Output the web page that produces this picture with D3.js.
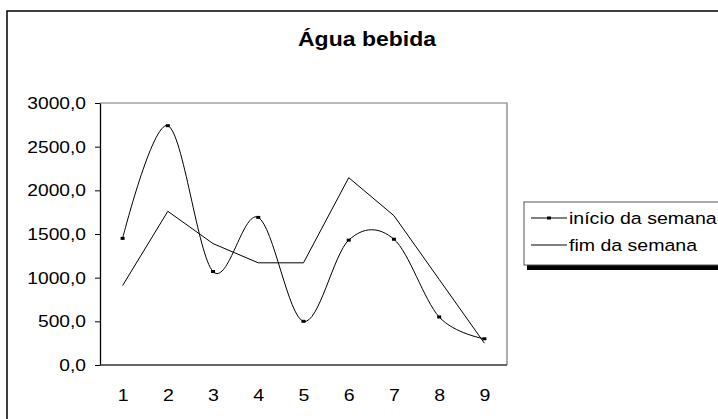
<!DOCTYPE html>
<html>
<head>
<meta charset="utf-8">
<script src="https://cdn.jsdelivr.net/npm/d3@7/dist/d3.min.js"></script>
<style>
  body { margin: 0; background: #fff; }
  text { font-family: "Liberation Sans", Arial, sans-serif; fill: #000; }
</style>
</head>
<body>
<script>
var semanas = [1, 2, 3, 4, 5, 6, 7, 8, 9];
var inicio = [1450, 2740, 1070, 1690, 500, 1430, 1440, 550, 300];
var fim = [910, 1760, 1390, 1170, 1170, 2145, 1710, 980, 250];
var yTicks = [0, 500, 1000, 1500, 2000, 2500, 3000];
var seriesNames = ["início da semana", "fim da semana"];
var title = "Água bebida";

var W = 718, H = 419;
var sx = 1.15; // text in the picture is a bit wider than normal
var plot = {left: 100, right: 507, top: 103, bottom: 365};

var pt = d3.formatLocale({decimal: ",", thousands: "", grouping: [3], currency: ["", ""]});
var fmt = pt.format(".1f");

var svg = d3.select("body").append("svg")
    .attr("width", W)
    .attr("height", H);

// chart area border
svg.append("rect")
    .attr("x", 7).attr("y", 11)
    .attr("width", 800).attr("height", 500)
    .attr("fill", "#fff")
    .attr("stroke", "#000")
    .attr("stroke-width", 1.5);

var x = d3.scalePoint()
    .domain(semanas)
    .range([plot.left, plot.right])
    .padding(0.5);

var y = d3.scaleLinear()
    .domain([0, 3000])
    .range([plot.bottom, plot.top]);

// plot frame (top + right are grey)
svg.append("path")
    .attr("d", "M" + plot.left + "," + plot.top + "H" + plot.right + "V" + plot.bottom)
    .attr("fill", "none")
    .attr("stroke", "#777")
    .attr("stroke-width", 1.2);

// y axis
var ysx = 1.2;
var yAxis = svg.append("g")
    .attr("transform", "translate(" + plot.left + ",0)")
    .call(d3.axisLeft(y).tickValues(yTicks).tickFormat(fmt).tickSizeInner(5).tickSizeOuter(0));
yAxis.select(".domain").attr("stroke", "#000").attr("stroke-width", 1.3);
yAxis.selectAll(".tick line").attr("stroke", "#000");
yAxis.selectAll(".tick text")
    .attr("x", -14 / ysx)
    .attr("dy", "0.35em")
    .attr("transform", "scale(" + ysx + ",1)")
    .style("font-size", "16px");

// x axis
var xAxis = svg.append("g")
    .attr("transform", "translate(0," + plot.bottom + ")")
    .call(d3.axisBottom(x).tickSize(0).tickPadding(0));
xAxis.select(".domain")
    .attr("d", "M" + plot.left + ",0H" + plot.right)
    .attr("stroke", "#333").attr("stroke-width", 1.3);
xAxis.selectAll(".tick text")
    .attr("y", 36)
    .attr("dy", 0)
    .attr("transform", "scale(" + sx + ",1)")
    .attr("x", 0)
    .style("font-size", "17px");

// lines
var smooth = d3.line()
    .x(function(d, i) { return x(semanas[i]); })
    .y(function(d) { return y(d); })
    .curve(d3.curveCardinal.tension(0));

var straight = d3.line()
    .x(function(d, i) { return x(semanas[i]); })
    .y(function(d) { return y(d); });

svg.append("path")
    .datum(fim)
    .attr("d", straight)
    .attr("fill", "none")
    .attr("stroke", "#000")
    .attr("stroke-width", 1);

svg.append("path")
    .datum(inicio)
    .attr("d", smooth)
    .attr("fill", "none")
    .attr("stroke", "#000")
    .attr("stroke-width", 1);

svg.selectAll(".mk")
    .data(inicio)
    .enter().append("rect")
    .attr("class", "mk")
    .attr("x", function(d, i) { return x(semanas[i]) - 2; })
    .attr("y", function(d) { return y(d) - 1.5; })
    .attr("width", 4)
    .attr("height", 3)
    .attr("fill", "#000");

// title
svg.append("g")
    .attr("transform", "translate(367,46)")
  .append("text")
    .attr("transform", "scale(" + sx + ",1)")
    .attr("text-anchor", "middle")
    .style("font-size", "20px")
    .style("font-weight", "bold")
    .text(title);

// legend
var lg = svg.append("g").attr("transform", "translate(524,202)");
lg.append("rect")
    .attr("x", 3).attr("y", 63)
    .attr("width", 300).attr("height", 5)
    .attr("fill", "#000");
lg.append("rect")
    .attr("x", 0).attr("y", 0)
    .attr("width", 300).attr("height", 63)
    .attr("fill", "#fff")
    .attr("stroke", "#555")
    .attr("stroke-width", 1);

var rows = lg.selectAll(".row")
    .data(seriesNames)
    .enter().append("g")
    .attr("class", "row")
    .attr("transform", function(d, i) { return "translate(0," + (16 + i * 27) + ")"; });

rows.append("line")
    .attr("x1", 7).attr("x2", 43)
    .attr("stroke", "#000")
    .attr("stroke-width", 1);

rows.filter(function(d, i) { return i === 0; })
    .append("rect")
    .attr("x", 23).attr("y", -1.5)
    .attr("width", 4).attr("height", 3)
    .attr("fill", "#000");

rows.append("g")
    .attr("transform", "translate(45,0)")
  .append("text")
    .attr("transform", "scale(" + sx + ",1)")
    .attr("dy", "0.35em")
    .style("font-size", "17px")
    .text(function(d) { return d; });
</script>
</body>
</html>
